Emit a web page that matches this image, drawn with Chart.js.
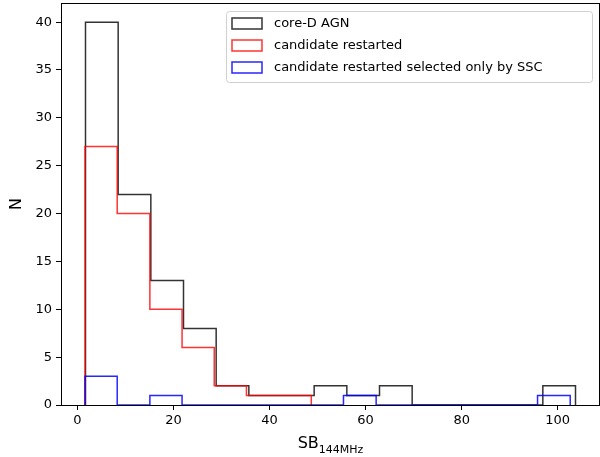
<!DOCTYPE html>
<html lang="en">
<head>
    <meta charset="UTF-8">
    <title>SB 144MHz histogram</title>
    <script src="https://cdn.jsdelivr.net/npm/chart.js@4.4.0/dist/chart.umd.min.js"></script>
    <style>
        html, body { margin: 0; padding: 0; background: #fff; }
        #wrap { width: 600px; height: 457px; }
    </style>
</head>
<body>
    <div id="wrap"><canvas id="hist"></canvas></div>

    <script>
        // Bin edges and counts for each histogram
        const coreEdges = [1.7, 8.5, 15.3, 22.1, 28.9, 35.7, 42.5, 49.3, 56.1, 62.9, 69.7, 76.5, 83.3, 90.1, 96.9, 103.7];
        const coreCounts = [40, 22, 13, 8, 2, 1, 1, 2, 1, 2, 0, 0, 0, 0, 2];

        const restartEdges = [1.6, 8.3, 15.1, 21.8, 28.5, 35.2, 42.0, 48.7];
        const restartCounts = [27, 20, 10, 6, 2, 1, 1];

        const sscEdges = [1.6, 8.3, 15.1, 21.8, 28.5, 35.2, 42.0, 48.7, 55.4, 62.2, 68.9, 75.6, 82.4, 89.1, 95.8, 102.6];
        const sscCounts = [3, 0, 1, 0, 0, 0, 0, 0, 1, 0, 0, 0, 0, 0, 1];

        const seriesLabels = ['core-D AGN', 'candidate restarted', 'candidate restarted selected only by SSC'];
        const seriesColors = ['rgba(0,0,0,0.8)', 'rgba(255,0,0,0.8)', 'rgba(0,0,255,0.85)'];

        const xTicks = [0, 20, 40, 60, 80, 100];
        const yTicks = [0, 5, 10, 15, 20, 25, 30, 35, 40];

        const FONT = 'DejaVu Sans';

        // outline of a step histogram: up at the first edge, across each bin, down at the end
        function stepOutline(edges, counts) {
            const pts = [{ x: edges[0], y: 0 }];
            for (let i = 0; i < counts.length; i++) {
                pts.push({ x: edges[i], y: counts[i] });
                pts.push({ x: edges[i + 1], y: counts[i] });
            }
            pts.push({ x: edges[edges.length - 1], y: 0 });
            return pts;
        }

        const outlines = [
            stepOutline(coreEdges, coreCounts),
            stepOutline(restartEdges, restartCounts),
            stepOutline(sscEdges, sscCounts)
        ];

        // frame, legend and subscripted x label
        const extras = {
            id: 'extras',
            afterDraw(chart) {
                const ctx = chart.ctx;
                const a = chart.chartArea;
                ctx.save();

                ctx.strokeStyle = '#000';
                ctx.lineWidth = 1;
                ctx.strokeRect(a.left + 0.5, a.top + 0.5, a.right - a.left - 1, a.bottom - a.top);

                // legend box
                const bx = 226, by = 11, bw = 366, bh = 71;
                ctx.fillStyle = 'rgba(255,255,255,0.8)';
                ctx.strokeStyle = '#d0d0d0';
                ctx.beginPath();
                ctx.roundRect(bx + 0.5, by + 0.5, bw, bh, 3);
                ctx.fill();
                ctx.stroke();

                ctx.font = '13px "' + FONT + '"';
                ctx.textBaseline = 'middle';
                ctx.textAlign = 'left';
                seriesLabels.forEach((label, i) => {
                    const cy = by + 12 + i * 22;
                    ctx.strokeStyle = seriesColors[i];
                    ctx.lineWidth = 1.5;
                    ctx.strokeRect(232, cy - 5, 30, 11);
                    ctx.fillStyle = '#000';
                    ctx.fillText(label, 274, cy + 1);
                });

                // x axis title with subscript
                const main = 'SB', sub = '144MHz';
                ctx.font = '16px "' + FONT + '"';
                const w1 = ctx.measureText(main).width;
                ctx.font = '11px "' + FONT + '"';
                const w2 = ctx.measureText(sub).width;
                const cx = (a.left + a.right) / 2;
                const x0 = cx - (w1 + w2) / 2;
                ctx.textBaseline = 'alphabetic';
                ctx.fillStyle = '#000';
                ctx.font = '16px "' + FONT + '"';
                ctx.fillText(main, x0, 448);
                ctx.font = '11px "' + FONT + '"';
                ctx.fillText(sub, x0 + w1, 453);

                ctx.restore();
            }
        };

        new Chart(document.getElementById('hist'), {
            type: 'line',
            data: {
                datasets: outlines.map((pts, i) => ({
                    label: seriesLabels[i],
                    data: pts,
                    borderColor: seriesColors[i],
                    borderWidth: 1.5,
                    pointRadius: 0,
                    fill: false,
                    tension: 0,
                    order: 3 - i
                }))
            },
            options: {
                responsive: true,
                maintainAspectRatio: false,
                animation: false,
                events: [],
                layout: { padding: { left: 0, right: 0, top: 3, bottom: 0 } },
                plugins: {
                    legend: { display: false },
                    tooltip: { enabled: false }
                },
                scales: {
                    x: {
                        type: 'linear',
                        min: -3.4,
                        max: 108.8,
                        afterBuildTicks: s => { s.ticks = xTicks.map(v => ({ value: v })); },
                        afterFit: s => { s.height = 52; s.paddingLeft = 0; s.paddingRight = 0; },
                        grid: { drawOnChartArea: false, drawTicks: true, tickLength: 5, color: '#000' },
                        border: { display: true, color: '#000' },
                        ticks: { color: '#000', font: { family: FONT, size: 13 }, padding: 3, maxRotation: 0 }
                    },
                    y: {
                        type: 'linear',
                        min: 0,
                        max: 42,
                        afterBuildTicks: s => { s.ticks = yTicks.map(v => ({ value: v })); },
                        afterFit: s => { s.width = 61; s.paddingTop = 0; s.paddingBottom = 0; },
                        grid: { drawOnChartArea: false, drawTicks: true, tickLength: 5, color: '#000' },
                        border: { display: true, color: '#000' },
                        ticks: { color: '#000', font: { family: FONT, size: 13 }, padding: 4 },
                        title: { display: true, text: 'N', color: '#000', font: { family: FONT, size: 16 }, padding: { top: 7, bottom: 0 } }
                    }
                }
            },
            plugins: [extras]
        });
    </script>
</body>
</html>
